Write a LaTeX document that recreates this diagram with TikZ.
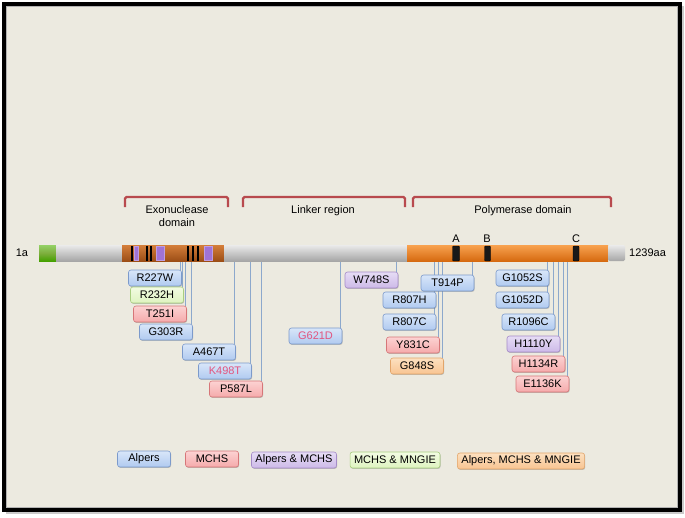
\documentclass[tikz,border=0pt]{standalone}
\usepackage{fontspec}
\setmainfont{Liberation Sans}
\usetikzlibrary{shadows}
\pgfdeclarelayer{bg}
\pgfdeclarelayer{lines}
\pgfsetlayers{bg,lines,main}
\definecolor{paper}{RGB}{236,234,224}
\definecolor{brk}{RGB}{184,74,78}
\definecolor{connc}{RGB}{140,168,204}
\definecolor{bluet}{RGB}{216,230,249}
\definecolor{blueb}{RGB}{176,202,240}
\definecolor{bluebd}{RGB}{124,154,203}
\definecolor{redt}{RGB}{252,210,210}
\definecolor{redb}{RGB}{245,170,171}
\definecolor{redbd}{RGB}{214,118,120}
\definecolor{purt}{RGB}{230,220,245}
\definecolor{purb}{RGB}{205,186,232}
\definecolor{purbd}{RGB}{165,139,200}
\definecolor{grnt}{RGB}{242,251,226}
\definecolor{grnb}{RGB}{222,243,192}
\definecolor{grnbd}{RGB}{168,206,128}
\definecolor{orgt}{RGB}{252,224,192}
\definecolor{orgb}{RGB}{248,196,145}
\definecolor{orgbd}{RGB}{226,165,106}
\definecolor{pinktxt}{RGB}{226,85,127}
\definecolor{polt}{RGB}{248,162,80}
\definecolor{polm}{RGB}{241,130,26}
\definecolor{polb}{RGB}{214,106,16}
\definecolor{exot}{RGB}{212,126,58}
\definecolor{exom}{RGB}{192,98,31}
\definecolor{exob}{RGB}{156,78,22}
\definecolor{purmark}{RGB}{160,115,214}
\begin{document}
\begin{tikzpicture}[x=1pt,y=-1pt,font=\fontsize{11}{13}\selectfont,
  mut/.style={draw,rounded corners=2.5pt,minimum width=53pt,minimum height=16pt,
    inner sep=1.5pt,line width=0.6pt,
    drop shadow={shadow xshift=0.6pt,shadow yshift=-0.9pt,opacity=0.3,fill=black!70}},
  alp/.style={mut,draw=bluebd,top color=bluet,bottom color=blueb},
  mch/.style={mut,draw=redbd,top color=redt,bottom color=redb},
  amc/.style={mut,draw=purbd,top color=purt,bottom color=purb},
  mmn/.style={mut,draw=grnbd,top color=grnt,bottom color=grnb},
  all/.style={mut,draw=orgbd,top color=orgt,bottom color=orgb},
  conn/.style={draw=connc,line width=0.7pt},
  bracket/.style={draw=brk,line width=2.2pt,rounded corners=1.5pt},
  tick/.style={fill=black},
  motif/.style={fill=black!90,draw=black,line width=0.4pt,rounded corners=1pt},
  pmark/.style={fill=purmark,draw=purmark!70!white,line width=0.4pt}]
\useasboundingbox (0,0) rectangle (685,517);
\begin{pgfonlayer}{bg}
  \fill[black!35,opacity=0.6] (6,6) rectangle (684,514);
  \filldraw[fill=paper,draw=black,line width=4pt] (4,4) rectangle (680,510);
  \draw[black!30,line width=0.5pt] (6.5,6.5) rectangle (677.5,507.5);
\end{pgfonlayer}

% domain brackets
\draw[bracket] (125,207) -- (125,197) -- (228,197) -- (228,207);
\draw[bracket] (243,207) -- (243,197) -- (405,197) -- (405,207);
\draw[bracket] (413,207) -- (413,197) -- (611,197) -- (611,207);
\node[align=center,font=\fontsize{11}{13}\selectfont] (exolbl) at (177,216) {Exonuclease\\domain};
\node (linklbl) at (323,211) {Linker region};
\node (pollbl) at (523,211) {Polymerase domain};

% protein bar
\node[inner sep=0,minimum width=586pt,minimum height=16pt] (bar) at (332,253) {};
\shade[top color=green!40!olive!60!white,bottom color=green!40!olive!90!black,middle color={rgb,255:red,126;green,174;blue,62}] (39,245) rectangle (56,261);
\shade[top color=white!92!black,middle color=black!22,bottom color=black!35] (56,245) rectangle (122,261);
\shade[top color=exot,middle color=exom,bottom color=exob] (122,245) rectangle (224,261);
\shade[top color=white!92!black,middle color=black!22,bottom color=black!35] (224,245) rectangle (407,261);
\shade[top color=polt,middle color=polm,bottom color=polb] (407,245) rectangle (608,261);
\shade[top color=white!92!black,middle color=black!22,bottom color=black!35,rounded corners=1.5pt] (608,245) rectangle (625,261);

% exonuclease motifs
\foreach \x in {131.7,146.7,150.7,187.7,192.7,197.7}
  \fill[tick] (\x-1.1,245.5) rectangle (\x+1.1,261);
\filldraw[pmark] (134.3,246) rectangle (138.3,260.5);
\filldraw[pmark] (156,246) rectangle (164,260.5);
\filldraw[pmark] (204.3,246) rectangle (211.7,260.5);

% polymerase motifs
\filldraw[motif] (452.5,246) rectangle (459.5,261);
\filldraw[motif] (484.5,246) rectangle (490.5,261);
\filldraw[motif] (573,246) rectangle (579,261);
\node (mA) at (456,239) {A};
\node (mB) at (487,239) {B};
\node (mC) at (576,239) {C};

\node (start) at (22,253) {1a};
\node[anchor=west,inner sep=0] (stop) at (629,253) {1239aa};

% mutations
\node[alp] (R227W) at (155,278) {R227W};
\node[mmn] (R232H) at (157,295) {R232H};
\node[mch] (T251I) at (160,314) {T251I};
\node[alp] (G303R) at (166,332) {G303R};
\node[alp] (A467T) at (209,352) {A467T};
\node[alp,text=pinktxt] (K498T) at (225,371) {K498T};
\node[mch] (P587L) at (236,389) {P587L};
\node[alp,text=pinktxt] (G621D) at (315.5,336) {G621D};
\node[amc] (W748S) at (371.5,280) {W748S};
\node[alp] (T914P) at (447.5,283) {T914P};
\node[alp] (R807H) at (409.5,300) {R807H};
\node[alp] (R807C) at (409.5,322) {R807C};
\node[mch] (Y831C) at (413,345) {Y831C};
\node[all] (G848S) at (417,366) {G848S};
\node[alp] (G1052S) at (522.5,278) {G1052S};
\node[alp] (G1052D) at (522.5,300) {G1052D};
\node[alp] (R1096C) at (528.5,322) {R1096C};
\node[amc] (H1110Y) at (533.5,344) {H1110Y};
\node[mch] (H1134R) at (538.5,364) {H1134R};
\node[mch] (E1136K) at (542.5,384) {E1136K};

\begin{pgfonlayer}{lines}
\foreach \m in {R227W,R232H,T251I,G303R,A467T,K498T,P587L,G621D,W748S,T914P,
  R807H,R807C,Y831C,G848S,G1052S,G1052D,R1096C,H1110Y,H1134R,E1136K}
  \draw[conn] ([xshift=-1.5pt]\m.north east) -- ([xshift=-1.5pt]\m.north east |- bar.south);
\end{pgfonlayer}

% legend
\node[alp] (lgA) at (144,459) {Alpers};
\node[mch] (lgM) at (212,459) {MCHS};
\node[amc,inner xsep=4pt] (lgAM) at (294,460) {Alpers \& MCHS};
\node[mmn,inner xsep=4pt] (lgMN) at (395,460) {MCHS \& MNGIE};
\node[all,inner xsep=4pt] (lgAMN) at (521,461) {Alpers, MCHS \& MNGIE};
\end{tikzpicture}
\end{document}
